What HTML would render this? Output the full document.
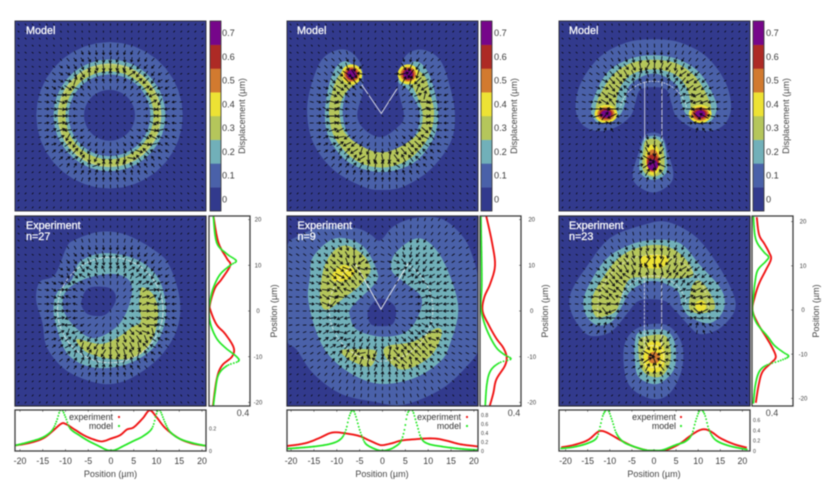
<!DOCTYPE html>
<html lang="en">
<head>
<meta charset="utf-8">
<title>Displacement maps: model and experiment</title>
<style>
html,body{margin:0;padding:0;background:#fff;width:830px;height:496px;overflow:hidden}
#figure{display:block;filter:blur(0.45px)}
text{font-family:"Liberation Sans",sans-serif;fill:#3a3a3a}
.tag{fill:#fff;font-size:10.8px;stroke:#fff;stroke-width:.25px}
.axt{font-size:9px;fill:#444}
.leg{font-size:8.9px;text-anchor:end;fill:#333}
</style>
</head>
<body>
<svg id="figure" width="830" height="496" viewBox="0 0 830 496" xmlns="http://www.w3.org/2000/svg">
  <rect width="830" height="496" fill="#fff"/>
  <g id="marks"></g>

  <text class="tag" x="26" y="34">Model</text>
  <text class="tag" x="297" y="34">Model</text>
  <text class="tag" x="569" y="34">Model</text>
  <text class="tag" x="26" y="229">Experiment</text>
  <text class="tag" x="26" y="240">n=27</text>
  <text class="tag" x="297.5" y="229">Experiment</text>
  <text class="tag" x="297.5" y="240">n=9</text>
  <text class="tag" x="569" y="229">Experiment</text>
  <text class="tag" x="569" y="240">n=23</text>

  <text class="axt" transform="translate(245,116) rotate(-90)" text-anchor="middle">Displacement (µm)</text>
  <text class="axt" transform="translate(517,116) rotate(-90)" text-anchor="middle">Displacement (µm)</text>
  <text class="axt" transform="translate(789,116) rotate(-90)" text-anchor="middle">Displacement (µm)</text>

  <text class="axt" transform="translate(277,311) rotate(-90)" text-anchor="middle">Position (µm)</text>
  <text class="axt" transform="translate(548,311) rotate(-90)" text-anchor="middle">Position (µm)</text>
  <text class="axt" transform="translate(819,311) rotate(-90)" text-anchor="middle">Position (µm)</text>

  <text class="axt" x="110.5" y="477" text-anchor="middle">Position (µm)</text>
  <text class="axt" x="382" y="477" text-anchor="middle">Position (µm)</text>
  <text class="axt" x="654" y="477" text-anchor="middle">Position (µm)</text>

  <text class="axt" x="243" y="416" text-anchor="middle">0.4</text>
  <text class="axt" x="514" y="416" text-anchor="middle">0.4</text>
  <text class="axt" x="772" y="416" text-anchor="middle">0.4</text>

  <g id="legends">
  <text class="leg" x="113" y="420">experiment</text>
  <text class="leg" x="113" y="429">model</text>
  <circle cx="119" cy="417" r="1.1" fill="#f01515"/>
  <circle cx="119" cy="426" r="1.1" fill="#25e825"/>
  <text class="leg" x="461" y="420">experiment</text>
  <text class="leg" x="461" y="429">model</text>
  <circle cx="467" cy="417" r="1.1" fill="#f01515"/>
  <circle cx="467" cy="426" r="1.1" fill="#25e825"/>
  <text class="leg" x="676" y="420">experiment</text>
  <text class="leg" x="676" y="429">model</text>
  <circle cx="681" cy="417" r="1.1" fill="#f01515"/>
  <circle cx="681" cy="426" r="1.1" fill="#25e825"/>
  </g>
</svg>

<script>
/* ---------- shared axis data ---------- */
const levelLabels = ['0','0.1','0.2','0.3','0.4','0.5','0.6','0.7'];
const bottomTicks = [-20,-15,-10,-5,0,5,10,15,20];
const sideTicks = [20,10,0,-10,-20];
const ringValueTicks = [0,0.2];
const vValueTicks = [0,0.2,0.4,0.6,0.8];
const tValueTicks = [0,0.2,0.4,0.6];

/* ---------- contour data: [x µm, y µm] ---------- */
const ringRadiiModel = [16.1,12.3,11.4,9.7,9.0,5.6];

const ringExp01 = [[-9.6,13.8],[-7.8,15.4],[-2.3,17.2],[3.6,16.5],[10.2,12.8],[13.1,9.5],[15.3,2.2],[14.6,-4.4],[10.9,-10.3],[5.1,-14.7],[0,-16.3],[-5.2,-15.4],[-10.3,-12.8],[-14,-8.1],[-14.9,-2.9],[-16.3,2.2],[-15.5,6.2],[-12.2,7.7]];
const ringExp00 = [[-6.3,2.2],[-4.8,4.8],[-0.8,5],[1,3.7],[1,1.5],[-1.2,-1.1],[-4.5,-1.1],[-6.1,0.4]];
const ringExp02 = [[-8.5,6.6],[-6.7,10.6],[-1.5,12.5],[5.1,11.4],[9.5,8.4],[11.6,4.4],[12.2,-1.5],[10.2,-7.3],[6.5,-10.6],[1.4,-12.5],[-4.5,-12.5],[-9.2,-9.9],[-11.4,-5.1],[-12.5,0],[-11.6,4]];
const ringExpHole = [[-10,3.7],[-7,6.2],[-2.3,7.7],[2.1,7.7],[4.7,5.5],[4,0.7],[1.4,-3.7],[-3.7,-6.2],[-7.8,-3.7],[-10.3,0]];
const ringExp03 = [[6.9,5],[9.5,3.3],[10.5,-0.7],[9.6,-5.5],[7.3,-9.2],[3.6,-10.8],[-1.5,-10.5],[-5.6,-9],[-7.4,-6.4],[-2.3,-7.5],[1.4,-6.2],[4.7,-3.8],[6.7,-2.6],[6.4,0.7],[6.5,2.9]];

const vModel01 = [[-4.3,10.7],[-6.5,13.8],[-9.5,14.4],[-13.1,12.2],[-15.5,6.3],[-16.3,0.4],[-14.9,-6.2],[-10.5,-12],[-4,-15.7],[0,-16.4],[4.8,-15.7],[10.7,-12],[15.1,-6.2],[16.2,-0.3],[15.1,6.3],[12.9,12.2],[9.2,14.4],[5.9,13.6],[4.2,10.7],[3.7,5.9],[5,0],[3.7,-2.5],[0,-4.8],[-3.6,-3.2],[-5.3,0],[-4,5.6]];
const vModel02 = [[-5,9.6],[-7.3,11.8],[-9.5,11.1],[-11.3,7.4],[-12.4,0.4],[-11.3,-5.4],[-6.9,-10.5],[0,-12.5],[7,-10.5],[11.3,-5.4],[12.5,0.4],[11.1,7.4],[9.2,11],[7,11.8],[5.2,9.6],[3.7,7.4],[6,5.5],[8.5,0.4],[6.7,-5.4],[0,-8.7],[-6.5,-5.4],[-8.5,0.4],[-7.3,5.6],[-4.3,8.1]];
const vModel03 = [[-5,8.5],[-7.3,10.3],[-9.5,8.5],[-10.9,4.8],[-11.5,0.4],[-10.2,-5],[-5.8,-9.8],[0,-11.5],[5.9,-9.8],[10.3,-5],[11.6,0.4],[10.7,4.8],[9.6,8.5],[7,10.3],[5.2,8.5],[6.7,6.7],[9.1,0.4],[7.4,-4.7],[0,-8.2],[-7.3,-4.7],[-9.2,0.4],[-8,4.8],[-5,7.4]];
const vSpots = [[4,-6.5,9,2.3,2.2],[5,-6.5,9,1.7,1.6],[6,-6.5,9,1.3,1.3],[7,-6.5,9,1,1],[4,5.9,9,2.3,2.2],[5,5.9,9,1.7,1.6],[6,5.9,9,1.3,1.3],[7,5.9,9,1,1]];

const vExp01 = [[-0.2,15.1],[2.7,18.2],[7.1,20],[13,20],[17.4,16.7],[19.9,12.3],[21.8,4.2],[21.8,-7.5],[18.8,-12.6],[13,-17.7],[4.9,-21],[-1.7,-20.3],[-9,-18.5],[-14.9,-14.1],[-18.5,-8.9],[-21.1,-5.3],[-21.1,12.3],[-17.8,16.3],[-11.9,18.2],[-5.3,17.8],[-2.1,16.3]];
const vExp02 = [[-14.9,11.6],[-10.1,15.6],[-4.2,14.1],[-0.95,8.6],[-1.3,5.7],[-6.4,0.6],[-6.8,-1.6],[-5.3,-4.5],[-0.2,-6],[4.9,-5.3],[7.8,-2.3],[8.9,2.6],[4.9,6.1],[2.3,8.6],[3.1,12.3],[7.8,15.6],[11.9,13.4],[15.2,7.2],[17,-0.1],[15.2,-7.5],[13,-11.5],[7.1,-15.2],[-0.2,-16.4],[-6.1,-14.4],[-11.2,-10.4],[-14.1,-5.3],[-16,2.1],[-15.6,7.2]];
const vExpCore = [[-2.8,-0.1],[-0.2,2.4],[3.1,0.6],[2.7,-3.1],[-0.2,-3.7],[-2.4,-3.1]];
const vExp03a = [[-13.4,2.1],[-12.7,8.6],[-10.5,12.7],[-7.5,14],[-3.9,11.9],[-2.3,8.6],[-4.6,5.3],[-8.3,2.4],[-11.9,-0.1]];
const vExp04 = [[-10.8,7.5],[-8.3,9.7],[-5.7,8.3],[-7.5,6.5],[-10.1,6.1]];
const vExp03b = [[-8.6,-8.9],[-1.7,-8.9],[-1.1,-10.4],[-2.4,-12.6],[-5.3,-11.9],[-7.9,-10.4]];
const vExp03c = [[1.1,-8.2],[7.1,-7.1],[12.2,-4.2],[13.3,-5.6],[10.8,-10.4],[4.9,-13.3],[1.2,-10.8]];

const tModelCap01 = [[-12.8,-3.4],[-15.8,-1.8],[-17.1,1.9],[-15.8,7.4],[-11.7,12.9],[-5.9,16],[0,16.7],[5.9,16],[11.7,12.9],[15.8,7.4],[17.1,1.9],[15.8,-1.8],[12.8,-3.4],[8.8,-2.9],[5.1,-0.3],[4,2.6],[2.9,5.6],[0,6.2],[-2.9,5.6],[-4,2.6],[-5.1,-0.3],[-8.8,-2.9]];
const tModelCap02 = [[-11.7,-1.8],[-13.6,0.4],[-13.2,3.4],[-10.3,9.2],[-5.5,12.3],[0,13.2],[5.5,12.3],[10.3,9.2],[13.6,3.4],[13.7,0.4],[11.7,-1.8],[7.7,-0.3],[6.2,2.6],[5.1,6.7],[0,9.2],[-5.1,6.7],[-6.2,2.6],[-7.7,-0.3]];
const tModelCap03 = [[-10.6,-1.4],[-12.6,0.4],[-12.1,3.7],[-9.2,8.5],[-5.1,11.4],[0,12.2],[5.1,11.4],[9.2,8.5],[12.1,3.7],[12.6,0.4],[10.6,-1.4],[8.4,-0.3],[8.1,3.4],[7,6.7],[4.4,9.2],[0,10.1],[-4.4,9.2],[-7,6.7],[-8.1,3.4],[-8.4,-0.3]];
const tModelStem01 = [[0,-17],[-3.7,-15.3],[-4.5,-12.7],[-3.3,-8.4],[-1.8,-4.3],[1.8,-4.3],[3.3,-8.4],[4.4,-12.7],[3.5,-15.3]];
const tModelStem02 = [[0,-14.2],[-2.8,-12.7],[-2.9,-9],[-1.8,-5],[1.8,-5],[2.9,-9],[2.8,-12.7]];
const tModelStem03 = [[0,-13.5],[-2.3,-12],[-2.2,-7.6],[-1.5,-5.4],[1.1,-5.4],[2.2,-7.6],[2.3,-12]];
const tModelSpots = [[4,-10.4,0.3,2.5,2],[5,-10.4,0.3,1.9,1.5],[6,-10.4,0.3,1.5,1.1],[7,-10.4,0.3,1.1,0.8],[4,10.3,0.3,2.5,2],[5,10.3,0.3,1.9,1.5],[6,10.3,0.3,1.5,1.1],[7,10.3,0.3,1.1,0.8],[4,-0.1,-9.8,1.7,3.4],[5,-0.1,-10,1.4,2.5],[6,-0.1,-10.4,1.3,1.8],[7,-0.1,-10.9,1.1,1.2]];

const tExpCap01 = [[-14.9,-5.1],[-17.9,-0.7],[-18.1,3.7],[-14.6,9.5],[-9.5,15.8],[-2.1,18.7],[3,19.4],[8.9,16.5],[13.3,11.4],[17.3,4.4],[18,0],[14.7,-4],[10.3,-5.3],[7.4,-2.9],[4.8,0],[2.3,2.1],[-2.9,2.1],[-5.4,-0.4],[-8.7,-4.4],[-12,-5.7]];
const tExpStem01 = [[-6.2,-7.3],[-2.9,-3.7],[3,-3.3],[6.3,-7.3],[6.3,-13.2],[3.7,-18.3],[0.1,-19.6],[-4.3,-17.6],[-6.2,-13.9]];
const tExpCap02 = [[-12.4,-3.3],[-14.9,-0.7],[-14.9,3.7],[-10.5,11],[-5.1,14.3],[0.1,15.4],[5.9,14.7],[10.3,9.9],[15.1,4.4],[15.5,0],[12.5,-2.9],[8.1,-1.5],[6.3,1.1],[5.2,4.4],[0.1,6.4],[-4.7,4.4],[-6.9,0.7],[-9.1,-2.6]];
const tExpStem02 = [[-4,-7.3],[-2.9,-4.8],[2.6,-4.4],[4.8,-7.3],[4.8,-12.5],[2.6,-15.4],[0.1,-16.3],[-3.2,-14.7],[-4,-11]];
const tExpCap03 = [[-12.7,-1.3],[-13.5,1.8],[-12,5.5],[-7.6,11.4],[-2.5,13.9],[2.6,14.1],[6.7,11.7],[8.9,7.7],[5.6,7],[0,7],[-4.7,7],[-6.5,4.4],[-8,0],[-10.9,-1.5]];
const tExpRight03 = [[8.1,2.9],[8.9,5.9],[10.7,6.2],[13.3,2.2],[13.3,0],[10.3,-0.7],[8.1,0]];
const tExpStem03 = [[-3.2,-7.3],[-2.1,-5.9],[2.3,-5.5],[3.7,-7.7],[3.7,-11.7],[1.9,-14.5],[-0.7,-14.5],[-2.7,-12.5]];
const tExpCap04 = [[-2.5,11.7],[2.3,12.1],[3.4,10.6],[1.5,9.2],[-2.1,9.5]];
const tExpStem04 = [[-1.8,-8.8],[-0.7,-7],[1.9,-7.3],[2.6,-10.3],[1.9,-13.2],[-0.7,-13.6],[-2.1,-11.7]];
const tExpSpots = [[4,10.5,0.9,1.2,1.2],[5,0.2,-10.5,1.3,1.3]];

/* ---------- profile data: [position µm, displacement µm] ---------- */
const ringBottomExp = [[-21,.05],[-18,.07],[-15,.11],[-13,.17],[-11,.24],[-10,.24],[-8,.19],[-6,.14],[-4,.105],[-2,.085],[0,.11],[2,.14],[3.5,.19],[5,.21],[7,.29],[8.5,.36],[10,.3],[12,.2],[15,.11],[18,.065],[21,.045]];
const ringBottomModel = [[-21,.05],[-18,.08],[-15,.12],[-13,.18],[-12,.26],[-11,.37],[-10,.3],[-9,.2],[-7,.14],[-5,.09],[-3,.05],[-1,.01],[0,.005],[1,.01],[3,.05],[5,.09],[7,.13],[9,.2],[10,.33],[10.5,.37],[11,.34],[12,.24],[13,.17],[15,.11],[18,.07],[21,.045]];
const ringSideExp = [[21,.05],[15,.11],[11.5,.21],[10,.25],[7,.15],[5,.07],[1.5,.012],[0,.02],[-3,.09],[-5,.19],[-8,.29],[-10,.27],[-12,.15],[-15,.09],[-21,.045]];
const ringSideModel = [[21,.05],[15,.09],[12.5,.21],[11,.32],[10,.25],[8,.13],[5,.05],[2,.012],[0,0],[-3,.02],[-6,.09],[-8,.19],[-10,.325],[-11,.345],[-12,.21],[-14,.11],[-18,.07],[-21,.05]];

const vBottomExp = [[-21,.11],[-17,.17],[-14,.28],[-11,.41],[-8,.39],[-5,.33],[-3,.24],[-1,.15],[0,.13],[2,.17],[4,.23],[7,.26],[11,.28],[14,.23],[17,.15],[21,.1]];
const vBottomModel = [[-21,.05],[-15,.1],[-11,.17],[-9,.28],[-8,.47],[-7.3,.76],[-6.5,.91],[-5.8,.76],[-5,.47],[-4,.21],[-3,.11],[-1,.02],[0,.01],[1,.02],[2.5,.08],[4,.21],[4.8,.47],[5.5,.84],[6.5,.91],[7.5,.6],[8.5,.28],[10,.16],[13,.1],[17,.05],[21,.02]];
const vSideExp = [[21,.07],[15,.14],[10,.175],[6,.12],[3,.05],[0,.03],[-3,.1],[-6,.19],[-8,.27],[-10,.31],[-12,.29],[-15,.19],[-18,.155],[-21,.11]];
const vSideModel = [[21,.01],[10,.02],[5,.02],[1,.01],[-2,.04],[-5,.1],[-8,.19],[-9.5,.28],[-10.5,.36],[-11.3,.23],[-13,.125],[-16,.08],[-21,.06]];

const tBottomExp = [[-21,.07],[-18,.12],[-15,.21],[-13,.35],[-12,.39],[-10.5,.35],[-8,.23],[-5,.1],[-2,.02],[0,.005],[2,.005],[4,.06],[6,.15],[8,.28],[10,.39],[11.5,.42],[13,.37],[15,.25],[18,.135],[21,.065]];
const tBottomModel = [[-21,.05],[-18,.08],[-15,.15],[-13,.25],[-12.2,.47],[-11.5,.7],[-10.5,.8],[-9.5,.6],[-8.5,.34],[-7,.18],[-5,.1],[-2,.02],[0,.01],[2,.02],[5,.12],[7,.18],[8.5,.31],[9.5,.6],[10.5,.8],[11.5,.7],[12.5,.4],[14,.21],[17,.1],[21,.03]];
const tSideExp = [[21,.1],[17,.15],[15,.26],[13,.36],[11.5,.4],[9,.29],[6,.15],[3,.06],[0,.01],[-3,.12],[-6,.29],[-8,.4],[-10,.49],[-11,.49],[-12,.4],[-14,.22],[-17,.14],[-21,.08]];
const tSideModel = [[21,.03],[17,.06],[15,.12],[13,.26],[12,.35],[11,.29],[9,.12],[6,.06],[3,.03],[0,.01],[-3,.1],[-6,.33],[-8,.47],[-9.5,.65],[-10.5,.77],[-11.5,.58],[-12.5,.3],[-14,.15],[-17,.07],[-21,.03]];

/* ---------- appearance ---------- */
const bandColours = ['#323a8d','#4a61a9','#71b0b9','#b5c65b','#ede234','#d27a2f','#ad2a25','#76068a'];
const heatScale = 4.55;

/* ---------- helpers ---------- */
const svgNS = 'http://www.w3.org/2000/svg';
const root = document.getElementById('marks');
function make(tag, parent, attrs) {
  const node = document.createElementNS(svgNS, tag);
  for (const k in attrs) node.setAttribute(k, attrs[k]);
  parent.appendChild(node);
  return node;
}
function smooth(pts, closed, n) {
  const out = [], m = pts.length, last = closed ? m : m - 1;
  for (let i = 0; i < last; i++) {
    const p0 = pts[closed ? (i - 1 + m) % m : Math.max(i - 1, 0)];
    const p1 = pts[i], p2 = pts[(i + 1) % m];
    const p3 = pts[closed ? (i + 2) % m : Math.min(i + 2, m - 1)];
    for (let j = 0; j < n; j++) {
      const t = j / n, a = t * t, b = a * t;
      out.push([0, 1].map(c => 0.5 * (2 * p1[c] + (p2[c] - p0[c]) * t + (2 * p0[c] - 5 * p1[c] + 4 * p2[c] - p3[c]) * a + (3 * p1[c] - p0[c] - 3 * p2[c] + p3[c]) * b)));
    }
  }
  if (!closed) out.push(pts[m - 1]);
  return out;
}
function ellipsePts(x, y, rx, ry) {
  const out = [];
  for (let i = 0; i < 36; i++) {
    const a = i / 36 * 2 * Math.PI;
    out.push([x + rx * Math.cos(a), y + ry * Math.sin(a)]);
  }
  return out;
}
function arcPts(r, a0, a1, cy) {
  const out = [];
  const n = Math.max(4, Math.round(Math.abs(a1 - a0) / 6));
  for (let i = 0; i <= n; i++) {
    const a = (a0 + (a1 - a0) * i / n) * Math.PI / 180;
    out.push([r * Math.cos(a), (cy || 0) + r * Math.sin(a)]);
  }
  return out;
}
function layer(level, pts) { return {level: level, pts: smooth(pts, true, 5)}; }
function spotLayers(list) { return list.map(s => ({level: s[0], pts: ellipsePts(s[1], s[2], s[3], s[4])})); }
function inside(p, poly) {
  let c = false;
  for (let i = 0, j = poly.length - 1; i < poly.length; j = i++) {
    const a = poly[i], b = poly[j];
    if ((a[1] > p[1]) !== (b[1] > p[1]) && p[0] < (b[0] - a[0]) * (p[1] - a[1]) / (b[1] - a[1]) + a[0]) c = !c;
  }
  return c;
}
function levelAt(p, layers) {
  let l = 0;
  for (const L of layers) if (inside(p, L.pts)) l = L.level;
  return l;
}
function pathFrom(pts, sx, sy, close) {
  return pts.map((p, i) => (i ? 'L' : 'M') + sx(p).toFixed(2) + ' ' + sy(p).toFixed(2)).join('') + (close ? 'Z' : '');
}

/* ---------- heat map panel ---------- */
function drawHeat(cfg) {
  const g = make('g', root, {});
  
  
  const clipId = 'clip-' + cfg.name;
  const cp = make('clipPath', g, {id: clipId});
  make('rect', cp, {x: cfg.x, y: cfg.y, width: 191, height: cfg.h});
  const inner = make('g', g, {'clip-path': 'url(#' + clipId + ')'});
  const base = make('rect', inner, {x: cfg.x, y: cfg.y, width: 191, height: cfg.h, fill: bandColours[0]});
  
  
  const sx = p => cfg.cx + heatScale * p[0];
  const sy = p => cfg.cy - heatScale * p[1];
  cfg.layers.forEach(L => {
    const band = make('path', inner, {d: pathFrom(L.pts, sx, sy, true), fill: bandColours[L.level]});
    
    
  });
  cfg.lines.forEach(line => {
    const stroke = make('path', inner, {d: pathFrom(line.pts, sx, sy, false), fill: 'none', stroke: '#f0f0f0', 'stroke-width': line.w || 1, 'stroke-opacity': line.o || .9, 'stroke-dasharray': line.dash || 'none'});
    
    
  });
  /* displacement arrows follow the contour level under each grid node */
  const attract = cfg.attract;
  const step = 191 / 27;
  let d = '';
  for (let r = 0; r < 27; r++) for (let c = 0; c < 27; c++) {
    const px = cfg.x + step * (c + .5), py = cfg.y + (cfg.h / 27) * (r + .5);
    const u = [(px - cfg.cx) / heatScale, (cfg.cy - py) / heatScale];
    const probes = [[0,0],[.7,0],[-.7,0],[0,.7],[0,-.7]];
    let lv = 0;
    probes.forEach(o => { lv += levelAt([u[0] + o[0], u[1] + o[1]], cfg.layers); });
    lv /= probes.length;
    let best = null, bd = 1e9;
    attract.forEach(a => { const q = (a[0] - u[0]) ** 2 + (a[1] - u[1]) ** 2; if (q < bd) { bd = q; best = a; } });
    let vx = best[0] - u[0], vy = best[1] - u[1];
    let mag = Math.hypot(vx, vy);
    const near = Math.exp(-(mag * mag) / 12);
    if (mag < .6) { vx = -u[0]; vy = -u[1]; mag = Math.hypot(vx, vy) || 1; }
    vx /= mag; vy /= mag;
    const len = Math.min(9.5, 1.4 + lv * 1.4 + (lv > 0 ? 2.6 * near : 0));
    const x0 = px - vx * len / 2, y0 = py + vy * len / 2, x1 = px + vx * len / 2, y1 = py - vy * len / 2;
    d += 'M' + x0.toFixed(1) + ' ' + y0.toFixed(1) + 'L' + x1.toFixed(1) + ' ' + y1.toFixed(1);
    if (len > 3.4) {
      const h = Math.min(2.1, len * .4), w = h * .62;
      const bx = x1 - vx * h, by = y1 + vy * h;
      d += 'M' + (bx - vy * w).toFixed(1) + ' ' + (by - vx * w).toFixed(1) + 'L' + x1.toFixed(1) + ' ' + y1.toFixed(1) + 'L' + (bx + vy * w).toFixed(1) + ' ' + (by + vx * w).toFixed(1);
    }
  }
  const arrows = make('path', inner, {d: d, fill: 'none', stroke: '#0a0a12', 'stroke-width': .85, 'stroke-linecap': 'round'});
  
  
  const frame = make('rect', g, {x: cfg.x, y: cfg.y, width: 191, height: cfg.h, fill: 'none', stroke: '#2a2a35', 'stroke-width': cfg.fw});
  
  
}

/* ---------- colour bar ---------- */
function drawColourbar(x, labelX, name) {
  const g = make('g', root, {});
  
  
  const h = 190 / levelLabels.length;
  levelLabels.forEach((lab, i) => {
    const y = 211 - h * (i + 1);
    const band = make('rect', g, {x: x, y: y, width: 11, height: h + .2, fill: bandColours[i]});
    
    
    const t = make('text', g, {x: labelX, y: y + h / 2 + 3.2, 'font-size': 9.2});
    
    
    t.textContent = lab;
  });
  const f = make('rect', g, {x: x, y: 21, width: 11, height: 190, fill: 'none', stroke: '#333', 'stroke-width': .8});
  
  
}

/* ---------- profile plots ---------- */
function drawLine(parent, pts, sx, sy, colour, name) {
  const line = make('path', parent, {d: pathFrom(smooth(pts, false, 6), sx, sy, false), fill: 'none', stroke: colour, 'stroke-width': 1.9, 'stroke-linejoin': 'round'});
  
  
}
/* the model series is plotted as evenly spaced points, so steep flanks read as dots */
function drawDots(parent, pts, sx, sy, colour, name) {
  const s = smooth(pts, false, 8).slice().sort((a, b) => a[0] - b[0]);
  const lo = s[0][0], hi = s[s.length - 1][0];
  let d = '', k = 0;
  for (let v = lo; v <= hi; v += 0.2) {
    while (k < s.length - 2 && s[k + 1][0] < v) k++;
    const a = s[k], b = s[k + 1];
    const f = b[0] === a[0] ? 0 : Math.max(0, Math.min(1, (v - a[0]) / (b[0] - a[0])));
    const p = [v, a[1] + (b[1] - a[1]) * f];
    d += 'M' + sx(p).toFixed(2) + ' ' + sy(p).toFixed(2) + 'h0';
  }
  const dots = make('path', parent, {d: d, fill: 'none', stroke: colour, 'stroke-width': 1.9, 'stroke-linecap': 'round'});
  
  
}
function drawBottom(cfg) {
  const g = make('g', root, {});
  
  
  const top = 410, bottom = 451;
  const sx = p => cfg.cx + cfg.scale * p[0];
  const sy = p => bottom - cfg.vScale * p[1];
  const clipId = 'clip-' + cfg.name;
  const cp = make('clipPath', g, {id: clipId});
  make('rect', cp, {x: cfg.x, y: top, width: 191, height: bottom - top});
  const inner = make('g', g, {'clip-path': 'url(#' + clipId + ')'});
  drawLine(inner, cfg.exp, sx, sy, '#f01515', 'experiment-profile');
  drawDots(inner, cfg.model, sx, sy, '#25e825', 'model-profile');
  const f = make('rect', g, {x: cfg.x, y: top, width: 191, height: bottom - top, fill: 'none', stroke: '#3c3c3c', 'stroke-width': 1.3});
  
  
  bottomTicks.forEach(v => {
    const x = cfg.cx + cfg.scale * v;
    const tick = make('path', g, {d: 'M' + x + ' ' + bottom + 'v-1.8M' + x + ' ' + top + 'v1.8', stroke: '#333', 'stroke-width': .6});
    
    
    const t = make('text', g, {x: x, y: 464, 'font-size': 8.8, 'text-anchor': 'middle'});
    
    
    t.textContent = v;
  });
  cfg.vTicks.forEach(v => {
    const t = make('text', g, {x: cfg.x + 194, y: bottom - cfg.vScale * v + 2, 'font-size': 5.2});
    
    
    t.textContent = v;
  });
}
function drawSide(cfg) {
  const g = make('g', root, {});
  
  
  const top = 216, h = 190;
  const sx = p => cfg.x + cfg.vScale * p[1];
  const sy = p => cfg.cy - cfg.scale * p[0];
  const clipId = 'clip-' + cfg.name;
  const cp = make('clipPath', g, {id: clipId});
  make('rect', cp, {x: cfg.x, y: top, width: 41, height: h});
  const inner = make('g', g, {'clip-path': 'url(#' + clipId + ')'});
  drawLine(inner, cfg.exp, sx, sy, '#f01515', 'experiment-profile');
  drawDots(inner, cfg.model, sx, sy, '#25e825', 'model-profile');
  const f = make('rect', g, {x: cfg.x, y: top, width: 41, height: h, fill: 'none', stroke: '#3c3c3c', 'stroke-width': 1.3});
  
  
  sideTicks.forEach(v => {
    const y = cfg.cy - cfg.scale * v;
    const tick = make('path', g, {d: 'M' + (cfg.x + 41) + ' ' + y + 'h-1.8', stroke: '#333', 'stroke-width': .6});
    
    
    const t = make('text', g, {x: cfg.labelX, y: y + 2.1, 'font-size': 6, 'text-anchor': 'middle'});
    
    
    t.textContent = v;
  });
}

/* ---------- pattern outlines and arrow attractors ---------- */
const ringAttract = arcPts(11, 0, 360);
const ringOutline = arcPts(11.6, 0, 360);
const vArcBottom = arcPts(11.4, 120, 420);
const vAttract = arcPts(11, 122, 418);
const capInner = arcPts(7.5, 14, 166);
const capOuter = arcPts(12.2, -8, 188);
const capAttract = arcPts(10.2, -10, 190);
const tAttract = capAttract.concat([[0, -10.2]]);

/* ---------- panels ---------- */
drawHeat({name: 'heatmap-model-ring', x: 15, y: 21, h: 190, cx: 109.5, cy: 115.3, fw: .9,
  layers: ringRadiiModel.map((r, i) => ({level: [1,2,3,2,1,0][i], pts: ellipsePts(0, 0, r, r)})),
  lines: [{pts: arcPts(11.2, 0, 360), o: .35, w: .8}], attract: ringAttract});
drawHeat({name: 'heatmap-model-v', x: 287, y: 21, h: 190, cx: 381.3, cy: 115.3, fw: .9,
  layers: [layer(1, vModel01), layer(2, vModel02), layer(3, vModel03)].concat(spotLayers(vSpots)),
  lines: [{pts: [[-4.3,6.7],[0,0.4],[3.5,5.9]], o: .85, w: 1}], attract: vAttract});
drawHeat({name: 'heatmap-model-t', x: 559, y: 21, h: 190, cx: 653.3, cy: 115.3, fw: .9,
  layers: [layer(1, tModelCap01), layer(1, tModelStem01), layer(2, tModelCap02), layer(2, tModelStem02), layer(3, tModelCap03), layer(3, tModelStem03)].concat(spotLayers(tModelSpots)),
  lines: [{pts: capInner, o: .85, w: .8, dash: '2 1'}, {pts: [[-1.9,7.4],[-1.9,-5.5]], o: .85, w: .9}, {pts: [[1.9,7.4],[1.9,-5.5]], o: .85, w: .9}], attract: tAttract});

drawHeat({name: 'heatmap-experiment-ring', x: 15, y: 216, h: 190, cx: 110.3, cy: 310, fw: 1.2,
  layers: [layer(1, ringExp01), layer(0, ringExp00), layer(2, ringExp02), layer(1, ringExpHole), layer(0, ringExp00), layer(3, ringExp03)],
  lines: [{pts: ringOutline, o: .75, w: .9, dash: '5 1'}], attract: ringAttract});
drawHeat({name: 'heatmap-experiment-v', x: 287, y: 216, h: 190, cx: 381, cy: 309.3, fw: 1.2,
  layers: [layer(1, vExp01), layer(2, vExp02), layer(0, vExpCore), layer(3, vExp03a), layer(4, vExp04), layer(3, vExp03b), layer(3, vExp03c)],
  lines: [{pts: [[-5.7,10.1],[0,0],[6,10.1]], o: .9, w: 1}, {pts: vArcBottom, o: .75, w: .9, dash: '3 1.5'}], attract: vAttract});
drawHeat({name: 'heatmap-experiment-t', x: 559, y: 216, h: 190, cx: 653, cy: 310, fw: 1.2,
  layers: [layer(1, tExpCap01), layer(1, tExpStem01), layer(2, tExpCap02), layer(2, tExpStem02), layer(3, tExpCap03), layer(3, tExpRight03), layer(3, tExpStem03), layer(4, tExpCap04), layer(4, tExpStem04)].concat(spotLayers(tExpSpots)),
  lines: [{pts: capInner, o: .8, w: .8, dash: '2 1'}, {pts: capOuter, o: .55, w: .8, dash: '3 2'}, {pts: [[-1.9,7.4],[-1.9,-8]], o: .8, w: .9, dash: '3 1'}, {pts: [[1.9,7.4],[1.9,-8]], o: .8, w: .9}, {pts: arcPts(2.4, 0, 360, -10.2), o: .6, w: .8}], attract: tAttract});

drawColourbar(210, 222, 'colorbar-ring');
drawColourbar(481, 494, 'colorbar-v');
drawColourbar(753, 766, 'colorbar-t');

drawBottom({name: 'bottom-profile-ring', x: 15, cx: 111, scale: 4.55, vScale: 113, vTicks: ringValueTicks, exp: ringBottomExp, model: ringBottomModel});
drawBottom({name: 'bottom-profile-v', x: 287, cx: 382.5, scale: 4.57, vScale: 45, vTicks: vValueTicks, exp: vBottomExp, model: vBottomModel});
drawBottom({name: 'bottom-profile-t', x: 559, cx: 654, scale: 4.42, vScale: 51.7, vTicks: tValueTicks, exp: tBottomExp, model: tBottomModel});

drawSide({name: 'side-profile-ring', x: 209, cy: 311, scale: 4.57, vScale: 85, labelX: 258, exp: ringSideExp, model: ringSideModel});
drawSide({name: 'side-profile-v', x: 480, cy: 311, scale: 4.57, vScale: 85.8, labelX: 531.7, exp: vSideExp, model: vSideModel});
drawSide({name: 'side-profile-t', x: 752, cy: 310, scale: 4.42, vScale: 47.5, labelX: 803, exp: tSideExp, model: tSideModel});
</script>
</body>
</html>
